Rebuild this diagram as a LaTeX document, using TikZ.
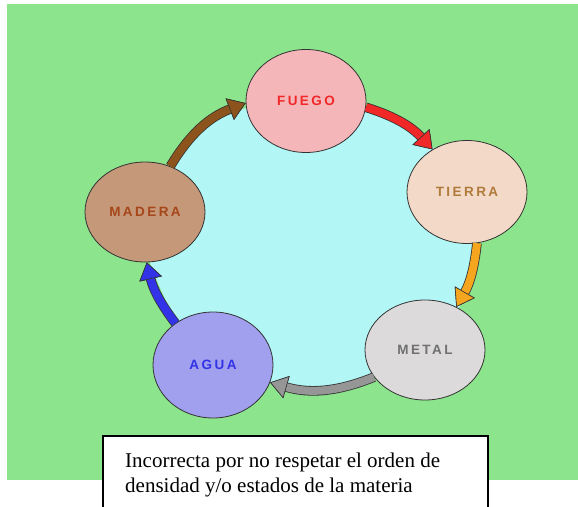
\documentclass[tikz,border=0pt]{standalone}
\usepackage{fontspec}
\setmainfont{Liberation Serif}
\newfontfamily\etiqueta[LetterSpace=18]{Liberation Sans}
\usetikzlibrary{shapes.geometric,arrows.meta}
\definecolor{verde}{RGB}{140,228,140}
\definecolor{cian}{RGB}{178,246,246}
\definecolor{rosa}{RGB}{245,182,186}
\definecolor{rojo}{RGB}{240,40,40}
\definecolor{cafeclaro}{RGB}{196,152,120}
\definecolor{cafe}{RGB}{140,84,28}
\definecolor{cafetexto}{RGB}{166,70,26}
\definecolor{durazno}{RGB}{243,218,200}
\definecolor{tierratexto}{RGB}{176,122,60}
\definecolor{naranja}{RGB}{245,166,30}
\definecolor{grisclaro}{RGB}{220,218,218}
\definecolor{gris}{RGB}{150,150,150}
\definecolor{gristexto}{RGB}{112,112,112}
\definecolor{lila}{RGB}{160,160,238}
\definecolor{azul}{RGB}{50,50,230}
\tikzset{
  elemento/.style={ellipse, draw=black!80, line width=0.8pt, minimum width=120pt,
    minimum height=103pt, inner sep=0pt, font=\etiqueta\bfseries\fontsize{13.5}{15}\selectfont},
  flecha/.style={line width=8pt, draw=#1,
    -{Triangle[width=23pt,length=17pt,line width=0.6pt,fill=#1,color=black!80]},
    preaction={draw=black!80, line width=9.6pt,
      -{Triangle[width=23pt,length=17pt,line width=0.6pt,fill=black!80]}}},
  nota/.style={inner sep=0pt, align=left, font=\fontsize{21}{25}\selectfont}
}
\begin{document}
\begin{tikzpicture}[x=1pt,y=-1pt]
  \useasboundingbox (0,0) rectangle (578,506);
  \fill[white] (0,0) rectangle (578,506);
  \fill[verde] (7,4) rectangle (578,480);
  \fill[cian] plot[smooth cycle, tension=0.6] coordinates {(198,134) (240,110) (306,101)
    (400,122) (467,192) (473,272) (425,350) (325,386) (213,365) (162,292) (145,212)};
  \node[elemento, fill=rosa, text=rojo]             (fuego)  at (306,101) {FUEGO};
  \node[elemento, fill=durazno, text=tierratexto]   (tierra) at (467,192) {TIERRA};
  \node[elemento, fill=grisclaro, text=gristexto,
        minimum height=100pt]                       (metal)  at (425,350) {METAL};
  \node[elemento, fill=lila, text=azul,
        minimum height=106pt]                       (agua)   at (213,365) {AGUA};
  \node[elemento, fill=cafeclaro, text=cafetexto,
        minimum height=100pt]                       (madera) at (145,212) {MADERA};
  \draw[flecha=cafe]    (madera.61)  to[bend left=19] (fuego.182);
  \draw[flecha=rojo]    (fuego.354)  to[bend left=15] (tierra.129);
  \draw[flecha=naranja] (tierra.281) to[bend left=12] (metal.54);
  \draw[flecha=gris]    (metal.208)  to[bend left=19] (agua.343);
  \draw[flecha=azul]    (agua.132)   to[bend left=12] (madera.272);
  \draw[line width=1.2pt, fill=white] (103,512) -- (103,436) -- (488,436) -- (488,512);
  \node[nota, anchor=north west] (texto) at (125,452.5)
    {Incorrecta por no respetar el orden de\\densidad y/o estados de la materia};
\end{tikzpicture}
\end{document}
